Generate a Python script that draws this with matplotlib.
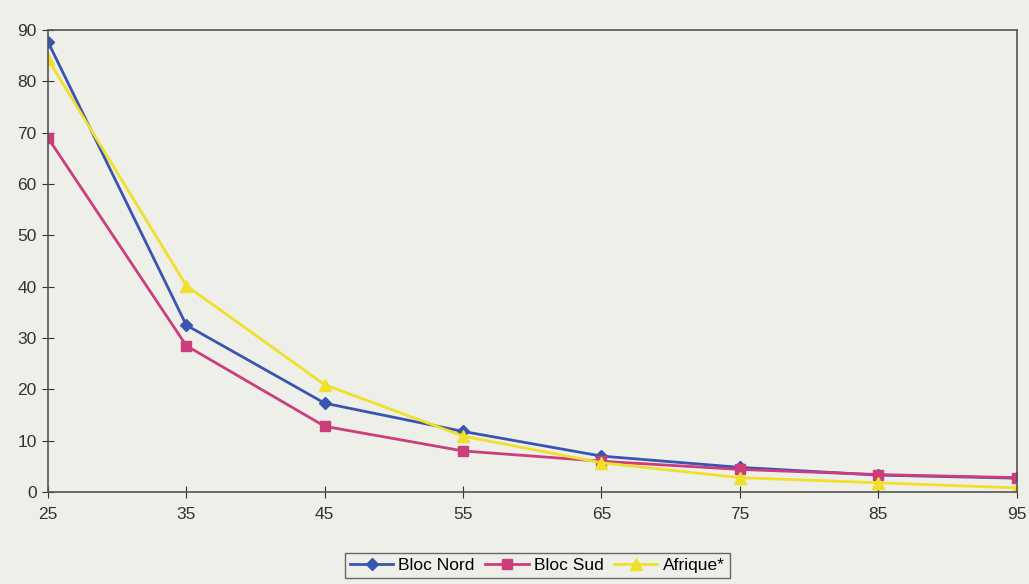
import matplotlib
matplotlib.use("Agg")
import matplotlib.pyplot as plt

ages = [25, 35, 45, 55, 65, 75, 85, 95]
bloc_nord = [87.7, 32.5, 17.3, 11.8, 7.0, 4.8, 3.3, 2.7]
bloc_sud = [69.0, 28.5, 12.8, 8.0, 6.0, 4.4, 3.4, 2.8]
afrique = [84.3, 40.2, 20.9, 10.9, 5.7, 2.8, 1.8, 0.8]

plt.rcParams['font.family'] = ['Liberation Sans', 'DejaVu Sans']
bg = '#efefea'

fig = plt.figure(figsize=(10.29, 5.84), dpi=100, facecolor=bg)
ax = fig.add_axes([0.0466, 0.1575, 0.9414, 0.7911], facecolor=bg)

ax.plot(ages, bloc_nord, color='#3a55b0', marker='D', markersize=6, lw=2, label='Bloc Nord')
ax.plot(ages, bloc_sud, color='#cc3d7c', marker='s', markersize=7, lw=2, label='Bloc Sud')
ax.plot(ages, afrique, color='#f0e02a', marker='^', markersize=8, lw=2, label='Afrique*')

ax.set_xlim(25, 95)
ax.set_ylim(0, 90)
ax.set_xticks(ages)
ax.set_yticks(range(0, 91, 10))
ax.tick_params(direction='inout', length=8, labelsize=12.5, colors='#333333', pad=7)
ax.tick_params(axis='y', pad=4)
for s in ax.spines.values():
    s.set_color('#555555')
    s.set_linewidth(1.2)
ax.spines['top'].set_linestyle((0, (6, 1)))
ax.spines['right'].set_linestyle((0, (6, 1)))

leg = fig.legend(loc='lower center', bbox_to_anchor=(0.522, -0.005), ncol=3, frameon=True,
                 fontsize=12.5, handlelength=2.5, columnspacing=0.6, handletextpad=0.3,
                 fancybox=False, borderpad=0.3, prop={'weight': 'medium', 'size': 12.5})
leg.get_frame().set_edgecolor('#444444')
leg.get_frame().set_facecolor(bg)

fig.savefig('out.png', dpi=100, facecolor=bg)
